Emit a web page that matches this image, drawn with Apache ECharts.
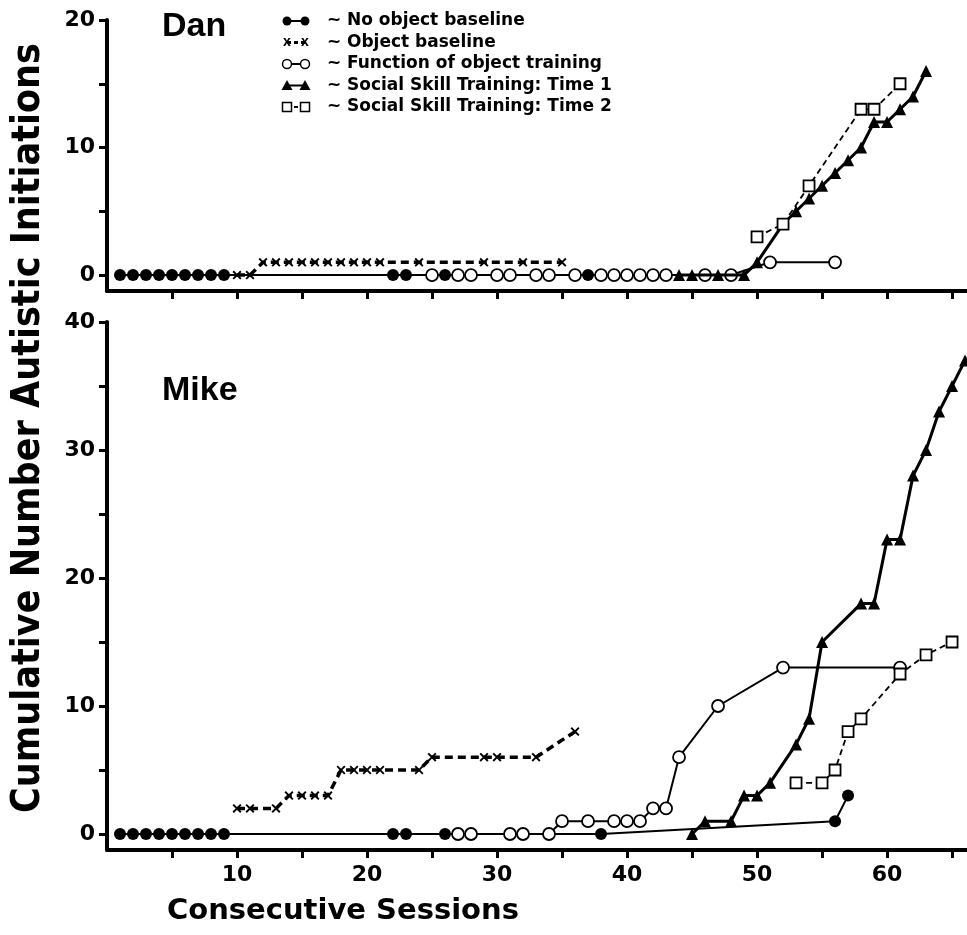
<!DOCTYPE html>
<html>
<head>
<meta charset="utf-8">
<script src="https://cdn.jsdelivr.net/npm/echarts@6/dist/echarts.min.js"></script>
<style>
  html, body { margin: 0; background: #fff; }
  #chart { width: 967px; height: 935px; }
</style>
</head>
<body>
<div id="chart"></div>
<script>
// Dan: [session, cumulative initiations]
const danNoObject = [[1,0],[2,0],[3,0],[4,0],[5,0],[6,0],[7,0],[8,0],[9,0],[22,0],[23,0],[26,0],[37,0]];
const danObject = [[10,0],[11,0],[12,1],[13,1],[14,1],[15,1],[16,1],[17,1],[18,1],[19,1],[20,1],[21,1],[24,1],[29,1],[32,1],[35,1]];
const danFunction = [[25,0],[27,0],[28,0],[30,0],[31,0],[33,0],[34,0],[36,0],[38,0],[39,0],[40,0],[41,0],[42,0],[43,0],[46,0],[48,0],[51,1],[56,1]];
const danTime1 = [[44,0],[45,0],[47,0],[49,0],[50,1],[52,4],[53,5],[54,6],[55,7],[56,8],[57,9],[58,10],[59,12],[60,12],[61,13],[62,14],[63,16]];
const danTime2 = [[50,3],[52,4],[54,7],[58,13],[59,13],[61,15]];

// Mike
const mikeNoObject = [[1,0],[2,0],[3,0],[4,0],[5,0],[6,0],[7,0],[8,0],[9,0],[22,0],[23,0],[26,0],[38,0],[56,1],[57,3]];
const mikeObject = [[10,2],[11,2],[13,2],[14,3],[15,3],[16,3],[17,3],[18,5],[19,5],[20,5],[21,5],[24,5],[25,6],[29,6],[30,6],[33,6],[36,8]];
const mikeFunction = [[27,0],[28,0],[31,0],[32,0],[34,0],[35,1],[37,1],[39,1],[40,1],[41,1],[42,2],[43,2],[44,6],[47,10],[52,13],[61,13]];
const mikeTime1 = [[45,0],[46,1],[48,1],[49,3],[50,3],[51,4],[53,7],[54,9],[55,15],[58,18],[59,18],[60,23],[61,23],[62,28],[63,30],[64,33],[65,35],[66,37]];
const mikeTime2 = [[53,4],[55,4],[56,5],[57,8],[58,9],[61,12.5],[63,14],[65,15]];

const xTicks = [5,10,15,20,25,30,35,40,45,50,55,60,65];
const xLabels = [10,20,30,40,50,60];
const danYTicks = [0,5,10,15,20];
const danYLabels = [0,10,20];
const mikeYTicks = [0,5,10,15,20,25,30,35,40];
const mikeYLabels = [0,10,20,30,40];

const legendNames = ['No object baseline', 'Object baseline', 'Function of object training',
  'Social Skill Training: Time 1', 'Social Skill Training: Time 2'];

const xMark = 'path://M0,1.5L1.5,0L5,3.5L8.5,0L10,1.5L6.5,5L10,8.5L8.5,10L5,6.5L1.5,10L0,8.5L3.5,5Z';
const labelFont = { color: '#000', fontFamily: 'DejaVu Sans', fontWeight: 'bold', fontSize: 22 };

var myChart = echarts.init(document.getElementById('chart'));

function xAxisFor(gridIndex, showLabels) {
    return {
        type: 'value', gridIndex: gridIndex, min: 0, max: 66.15,
        axisLine: { onZero: false, lineStyle: { color: '#000', width: 4 } },
        axisTick: { show: true, customValues: xTicks, length: 8, lineStyle: { color: '#000', width: 3 } },
        axisLabel: Object.assign({ show: showLabels, customValues: xLabels, margin: 14 }, labelFont),
        splitLine: { show: false }
    };
}

function yAxisFor(gridIndex, max, ticks, labels) {
    return {
        type: 'value', gridIndex: gridIndex, min: -1.25, max: max,
        axisLine: { onZero: false, lineStyle: { color: '#000', width: 4 } },
        axisTick: { show: true, customValues: ticks, length: 8, lineStyle: { color: '#000', width: 3 } },
        axisLabel: Object.assign({ customValues: labels, margin: 12 }, labelFont),
        splitLine: { show: false }
    };
}

// five kinds of series, same style in both panels
function seriesFor(idx, data, kind) {
    const base = { type: 'line', xAxisIndex: idx, yAxisIndex: idx, data: data, clip: false, z: 2 };
    if (kind === 'noObject') {
        return Object.assign(base, { symbol: 'circle', symbolSize: 12,
            itemStyle: { color: '#000' }, lineStyle: { color: '#000', width: 2 } });
    }
    if (kind === 'object') {
        return Object.assign(base, { symbol: xMark, symbolSize: 9,
            itemStyle: { color: '#000' }, lineStyle: { color: '#000', width: 3.5, type: [8, 5] } });
    }
    if (kind === 'function') {
        return Object.assign(base, { symbol: 'circle', symbolSize: 12, z: 3,
            itemStyle: { color: '#fff', borderColor: '#000', borderWidth: 1.8 },
            lineStyle: { color: '#000', width: 2 } });
    }
    if (kind === 'time1') {
        return Object.assign(base, { symbol: 'triangle', symbolSize: 12, z: 4,
            itemStyle: { color: '#000' }, lineStyle: { color: '#000', width: 3 } });
    }
    return Object.assign(base, { symbol: 'rect', symbolSize: 11, z: 5,
        itemStyle: { color: '#fff', borderColor: '#000', borderWidth: 1.8 },
        lineStyle: { color: '#000', width: 1.8, type: [6, 4] } });
}

// legend drawn by hand: pair of markers joined by a line, then "~ name"
const legendEls = [];
legendNames.forEach(function (name, i) {
    const y = 21 + i * 21.5;
    const dashed = i === 1 || i === 4;
    legendEls.push({ type: 'line', shape: { x1: 287, y1: y, x2: 305, y2: y },
        style: { stroke: '#000', lineWidth: i === 1 ? 3 : 2, lineDash: dashed ? [4, 3] : null } });
    [287, 305].forEach(function (cx) {
        if (i === 0) legendEls.push({ type: 'circle', shape: { cx: cx, cy: y, r: 4.5 }, style: { fill: '#000' } });
        if (i === 1) legendEls.push({ type: 'text', x: cx, y: y, style: { text: 'x', fill: '#000',
            font: 'bold 14px "Liberation Sans"', align: 'center', verticalAlign: 'middle' } });
        if (i === 2) legendEls.push({ type: 'circle', shape: { cx: cx, cy: y, r: 4.5 },
            style: { fill: '#fff', stroke: '#000', lineWidth: 1.5 } });
        if (i === 3) legendEls.push({ type: 'polygon', shape: { points: [[cx - 5.5, y + 4.5], [cx, y - 5.5], [cx + 5.5, y + 4.5]] },
            style: { fill: '#000' } });
        if (i === 4) legendEls.push({ type: 'rect', shape: { x: cx - 4.5, y: y - 4.5, width: 9, height: 9 },
            style: { fill: '#fff', stroke: '#000', lineWidth: 1.5 } });
    });
    legendEls.push({ type: 'text', x: 327, y: y, style: { text: '~', fill: '#000',
        font: 'bold 17px "DejaVu Sans"', verticalAlign: 'middle' } });
    legendEls.push({ type: 'text', x: 347, y: y, style: { text: name, fill: '#000',
        font: 'bold 17px "DejaVu Sans"', verticalAlign: 'middle' } });
});

var option = {
    animation: false,
    backgroundColor: '#fff',
    grid: [
        { left: 107, right: 0, top: 20, height: 271 },
        { left: 107, right: 0, top: 322, height: 528 }
    ],
    xAxis: [xAxisFor(0, false), xAxisFor(1, true)],
    yAxis: [yAxisFor(0, 20, danYTicks, danYLabels), yAxisFor(1, 40, mikeYTicks, mikeYLabels)],
    series: [
        seriesFor(0, danNoObject, 'noObject'),
        seriesFor(0, danObject, 'object'),
        seriesFor(0, danFunction, 'function'),
        seriesFor(0, danTime1, 'time1'),
        seriesFor(0, danTime2, 'time2'),
        seriesFor(1, mikeNoObject, 'noObject'),
        seriesFor(1, mikeObject, 'object'),
        seriesFor(1, mikeFunction, 'function'),
        seriesFor(1, mikeTime1, 'time1'),
        seriesFor(1, mikeTime2, 'time2')
    ],
    graphic: [
        { type: 'text', left: 162, top: 10, style: { text: 'Dan', fill: '#000', font: 'bold 34px "Liberation Sans"' } },
        { type: 'text', left: 162, top: 374, style: { text: 'Mike', fill: '#000', font: 'bold 34px "Liberation Sans"' } },
        { type: 'text', x: 29, y: 428, rotation: Math.PI / 2,
          style: { text: 'Cumulative Number Autistic Initiations', fill: '#000',
                   font: 'bold 39px "DejaVu Sans Condensed", "Liberation Sans"', align: 'center', verticalAlign: 'middle' } },
        { type: 'text', left: 167, top: 897, style: { text: 'Consecutive Sessions', fill: '#000',
                   font: 'bold 29px "DejaVu Sans"' } },
        { type: 'group', children: legendEls }
    ]
};

myChart.setOption(option);
</script>
</body>
</html>
